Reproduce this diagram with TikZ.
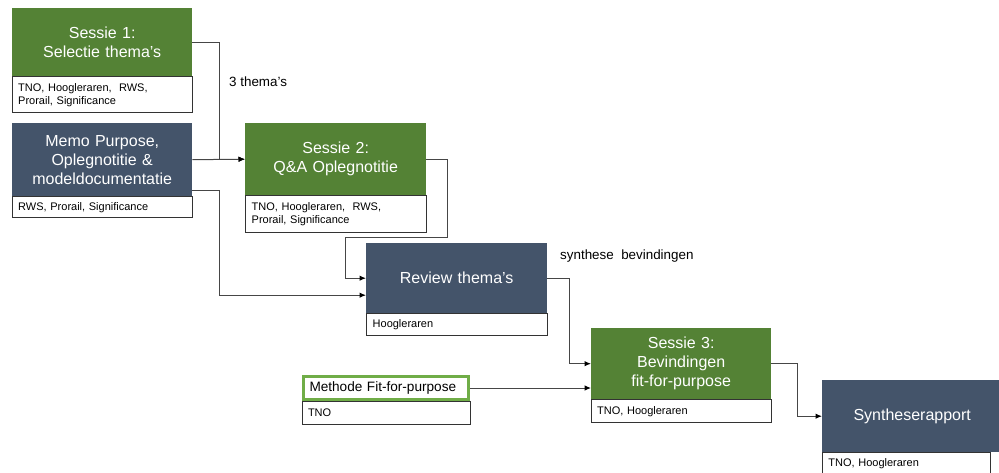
\documentclass[tikz,border=0pt]{standalone}
\usepackage{fontspec}
\setmainfont{Liberation Sans}
\usetikzlibrary{arrows.meta,positioning}
\definecolor{sessiegreen}{RGB}{84, 130, 53}
\definecolor{docblue}{RGB}{68, 84, 106}
\definecolor{methodgreen}{RGB}{112, 173, 71}
\definecolor{linegray}{RGB}{70, 70, 70}
\tikzset{
  mainbox/.style = {
    rectangle, fill=#1, text=white,
    minimum width=180pt, text width=172pt, inner sep=0pt,
    align=center, font=\fontsize{16}{19}\selectfont
  },
  mainbox/.default = sessiegreen,
  partbox/.style = {
    rectangle, draw=black!80, line width=0.8pt, fill=white,
    minimum width=180pt, text width=#1, inner xsep=6pt, inner ysep=0pt,
    align=left, font=\fontsize{11}{13}\selectfont
  },
  partbox/.default = 168pt,
  methbox/.style = {
    rectangle, draw=methodgreen, line width=3pt, fill=white,
    minimum width=165pt, minimum height=23pt, text width=153pt,
    inner xsep=6pt, inner ysep=0pt,
    align=left, font=\fontsize{13.6}{15}\selectfont
  },
  conn/.style = {-{Latex[length=6.5pt,width=5.5pt,color=black]},
    draw=linegray, line width=1pt},
  lbl/.style  = {anchor=west, inner sep=0pt, font=\fontsize{13.4}{15}\selectfont},
}

\begin{document}
\begin{tikzpicture}[x=1pt, y=-1pt]
  \useasboundingbox (0,0) rectangle (999,473);

  % Sessie 1 and the input documents (left)
  \node[mainbox=sessiegreen, minimum height=68pt, anchor=north west] (sessie1)
    at (12,8) {Sessie 1:\\Selectie thema’s};
  \node[partbox, minimum height=36pt, below=0pt of sessie1] (sessie1_p)
    {TNO, Hoogleraren,~ RWS,\\Prorail, Significance};

  \node[mainbox=docblue, minimum height=73pt, anchor=north west] (memo)
    at (12,123) {Memo Purpose,\\Oplegnotitie \&\\modeldocumentatie};
  \node[partbox, minimum height=21pt, below=0pt of memo] (memo_p)
    {RWS, Prorail, Significance};

  % Sessie 2 and review
  \node[mainbox=sessiegreen, minimum height=72pt, minimum width=181pt,
        anchor=north west] (sessie2)
    at (245,123) {Sessie 2:\\Q\&A Oplegnotitie};
  \node[partbox, minimum height=37pt, minimum width=181pt,
        below=0pt of sessie2] (sessie2_p)
    {TNO, Hoogleraren,~ RWS,\\Prorail, Significance};

  \node[mainbox=docblue, minimum height=70pt, minimum width=181pt,
        anchor=north west] (review)
    at (366,243) {Review thema’s};
  \node[partbox, minimum height=22pt, minimum width=181pt,
        below=0pt of review] (review_p)
    {Hoogleraren};

  % Method and Sessie 3
  \node[methbox, anchor=north west] (methode)
    at (302,375) {Methode Fit-for-purpose};
  \node[partbox, minimum width=168pt, text width=156pt, minimum height=23pt,
        below=0pt of methode] (methode_p)
    {TNO};

  \node[mainbox=sessiegreen, minimum height=71pt, anchor=north west] (sessie3)
    at (591,328) {Sessie 3:\\Bevindingen\\fit-for-purpose};
  \node[partbox, minimum height=23pt, below=0pt of sessie3] (sessie3_p)
    {TNO, Hoogleraren};

  % Final report (right)
  \node[mainbox=docblue, minimum height=72pt, anchor=north west] (rapport)
    at (822,380) {Syntheserapport};
  \node[partbox, minimum width=168pt, text width=156pt, minimum height=22pt,
        below right=0pt of rapport.south west] (rapport_p)
    {TNO, Hoogleraren};

  % Labels
  \node[lbl] (lbl_themas) at (229,82) {3 thema’s};
  \node[lbl] (lbl_synth) at (560,256) {synthese~ bevindingen};

  % Arrows
  \draw[conn] (sessie1.east) -- ++(27,0) |- (sessie2.west);
  \draw[conn] (memo.east) -- (sessie2.west);
  \draw[conn] ([yshift=6pt]memo.south east) -- ++(27,0)
    |- ([yshift=-17pt]review.west);
  \draw[conn] (sessie2.east) -- ++(21,0) -- ++(0,78)
    -| ([xshift=-21pt]review.west) -- (review.west);
  \draw[conn] (review.east) -- ++(22,0) |- (sessie3.west);
  \draw[conn] (methode.east) -- (sessie3.west |- methode.east);
  \draw[conn] (sessie3.east) -- ++(26,0) |- (rapport.west);

\end{tikzpicture}
\end{document}
